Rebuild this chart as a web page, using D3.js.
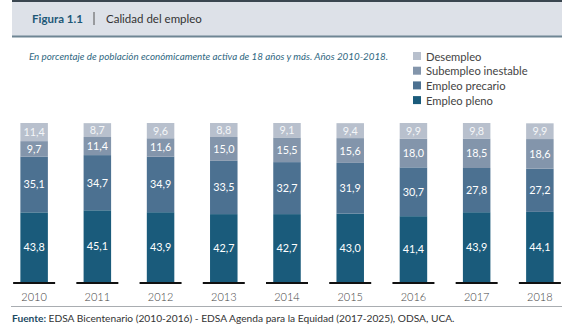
<!DOCTYPE html>
<html>
<head>
<meta charset="utf-8">
<script src="https://cdn.jsdelivr.net/npm/d3@7"></script>
<style>
  body { margin: 0; background: #fff; }
  svg { display: block; font-family: Lato, "Open Sans", sans-serif; }
</style>
</head>
<body>
<div id="chart"></div>
<script>
// Data (percent of economically active population)
const years = ["2010", "2011", "2012", "2013", "2014", "2015", "2016", "2017", "2018"];
const empleoPleno = [43.8, 45.1, 43.9, 42.7, 42.7, 43.0, 41.4, 43.9, 44.1];
const empleoPrecario = [35.1, 34.7, 34.9, 33.5, 32.7, 31.9, 30.7, 27.8, 27.2];
const subempleo = [9.7, 11.4, 11.6, 15.0, 15.5, 15.6, 18.0, 18.5, 18.6];
const desempleo = [11.4, 8.7, 9.6, 8.8, 9.1, 9.4, 9.9, 9.8, 9.9];

const seriesNames = ["Empleo pleno", "Empleo precario", "Subempleo inestable", "Desempleo"];
const seriesColors = ["#1a5b7b", "#4c7191", "#8395ab", "#b8c0cd"];

const width = 567;
const height = 330;

const svg = d3.select("#chart")
  .append("svg")
  .attr("width", width)
  .attr("height", height);

// Header band
svg.append("rect")
  .attr("x", 12).attr("y", 1)
  .attr("width", 550).attr("height", 35)
  .attr("fill", "#dde1e8");
svg.append("line")
  .attr("x1", 12).attr("x2", 562)
  .attr("y1", 1).attr("y2", 1)
  .attr("stroke", "#3a4650").attr("stroke-width", 2);
svg.append("line")
  .attr("x1", 12).attr("x2", 562)
  .attr("y1", 36.5).attr("y2", 36.5)
  .attr("stroke", "#6f8694").attr("stroke-width", 2);

svg.append("text")
  .attr("x", 32).attr("y", 23)
  .attr("font-size", 11.5).attr("font-weight", 700)
  .attr("fill", "#1d5877")
  .text("Figura 1.1");
svg.append("line")
  .attr("x1", 94).attr("x2", 94)
  .attr("y1", 12).attr("y2", 25)
  .attr("stroke", "#555").attr("stroke-width", 1);
svg.append("text")
  .attr("x", 106).attr("y", 23)
  .attr("font-size", 11.5)
  .attr("fill", "#333")
  .text("Calidad del empleo");

// Subtitle
svg.append("text")
  .attr("x", 29).attr("y", 60)
  .attr("font-size", 9.8).attr("font-style", "italic")
  .attr("fill", "#2f6781")
  .text("En porcentaje de población económicamente activa de 18 años y más. Años 2010-2018.");

// Legend (top entry is Desempleo)
const legend = svg.append("g").attr("transform", "translate(413,52)");
const legendOrder = [3, 2, 1, 0];
legendOrder.forEach((s, i) => {
  const g = legend.append("g").attr("transform", `translate(0,${i * 14.7})`);
  g.append("rect").attr("width", 8).attr("height", 8).attr("fill", seriesColors[s]);
  g.append("text")
    .attr("x", 13).attr("y", 8.5)
    .attr("font-size", 11.2)
    .attr("fill", "#444")
    .text(seriesNames[s]);
});

// Scales
const x = d3.scaleBand()
  .domain(years)
  .range([9, 565])
  .paddingInner(0.565)
  .paddingOuter(0.18);

const y = d3.scaleLinear()
  .domain([0, 100])
  .range([282, 123]);

const table = years.map((yr, i) => ({
  year: yr,
  "Empleo pleno": empleoPleno[i],
  "Empleo precario": empleoPrecario[i],
  "Subempleo inestable": subempleo[i],
  "Desempleo": desempleo[i]
}));

const stack = d3.stack().keys(seriesNames)(table);

const layers = svg.append("g")
  .selectAll("g")
  .data(stack)
  .join("g")
  .attr("fill", (d, i) => seriesColors[i]);

layers.selectAll("rect")
  .data(d => d)
  .join("rect")
  .attr("x", d => x(d.data.year))
  .attr("width", x.bandwidth())
  .attr("y", d => y(d[1]))
  .attr("height", d => y(d[0]) - y(d[1]));

layers.selectAll("text")
  .data(d => d.map(v => ({ key: d.key, v })))
  .join("text")
  .attr("x", d => x(d.v.data.year) + x.bandwidth() / 2)
  .attr("y", d => (y(d.v[0]) + y(d.v[1])) / 2 + 4)
  .attr("text-anchor", "middle")
  .attr("font-size", 10.8)
  .attr("fill", d => d.key === "Desempleo" ? "#f4f6f8" : "#fff")
  .text(d => d3.format(".1f")(d.v.data[d.key]).replace(".", ","));

// Baseline ticks under each bar
svg.append("g")
  .selectAll("line")
  .data(years)
  .join("line")
  .attr("x1", d => x(d) + x.bandwidth() / 2 - 21)
  .attr("x2", d => x(d) + x.bandwidth() / 2 + 21)
  .attr("y1", 283).attr("y2", 283)
  .attr("stroke", "#111").attr("stroke-width", 2);

// Year axis
const xAxis = svg.append("g")
  .attr("transform", "translate(0,285)")
  .call(d3.axisBottom(x).tickSize(0).tickPadding(8));
xAxis.select(".domain").remove();
xAxis.selectAll("text")
  .attr("font-family", "Lato, sans-serif")
  .attr("font-size", 11)
  .attr("font-weight", 300)
  .attr("fill", "#444");

// Bottom rule
svg.append("line")
  .attr("x1", 11).attr("x2", 562)
  .attr("y1", 306.5).attr("y2", 306.5)
  .attr("stroke", "#a9adb1").attr("stroke-width", 1);

// Source
const src = svg.append("text")
  .attr("x", 12).attr("y", 322)
  .attr("font-size", 10.2)
  .attr("fill", "#333");
src.append("tspan").attr("font-weight", 700).attr("fill", "#1d4a63").text("Fuente: ");
src.append("tspan").text("EDSA Bicentenario (2010-2016) - EDSA Agenda para la Equidad (2017-2025), ODSA, UCA.");
</script>
</body>
</html>
